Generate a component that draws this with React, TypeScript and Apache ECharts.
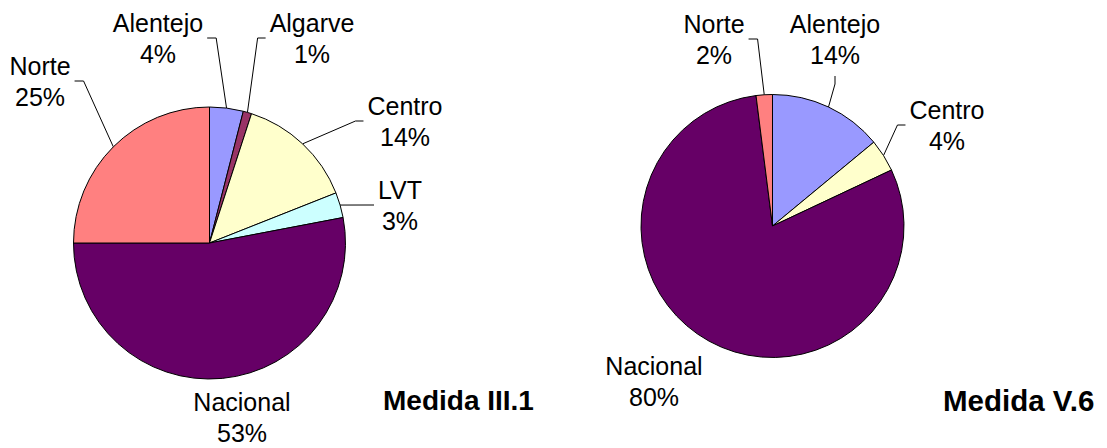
import React, { useEffect, useRef } from "react";
import * as echarts from "echarts";

// ---- data ----
const LEFT_CATEGORIES = ["Alentejo", "Algarve", "Centro", "LVT", "Nacional", "Norte"];
const LEFT_VALUES = [4, 1, 14, 3, 53, 25];
const RIGHT_CATEGORIES = ["Alentejo", "Centro", "Nacional", "Norte"];
const RIGHT_VALUES = [14, 4, 80, 2];
const TITLES = ["Medida III.1", "Medida V.6"];

// ---- styles / layout ----
const FONT = '"Liberation Sans", Arial, sans-serif';
const COLORS: Record<string, string> = {
  Alentejo: "#9999FF",
  Algarve: "#993366",
  Centro: "#FFFFCC",
  LVT: "#CCFFFF",
  Nacional: "#660066",
  Norte: "#FF8080",
};
const NO_LINE = ["Nacional"];
const LEFT_LABEL_POS = [
  [158, 38],
  [312, 38],
  [405, 121],
  [400, 205],
  [242, 417],
  [40, 81],
];
const RIGHT_LABEL_POS = [
  [835, 39],
  [947, 125],
  [654, 381],
  [714, 39],
];

function makeLayout(pos: number[][]) {
  return (p: any) => {
    const [cx, cy] = pos[p.dataIndex];
    const w = p.labelRect ? p.labelRect.width : 0;
    const h = p.labelRect ? p.labelRect.height : 0;
    const res: any = { x: cx, y: cy, align: "center", verticalAlign: "middle" };
    const pts = p.labelLinePoints;
    if (pts && pts.length) {
      const e = pts[0];
      const left = cx - w / 2;
      const right = cx + w / 2;
      const bottom = cy + h / 2;
      let end: number[];
      let knee: number[];
      if (e[0] >= left && e[0] <= right) {
        end = [cx, bottom + 6];
        knee = [cx, bottom + 14];
      } else if (e[0] > right) {
        end = [right + 4, cy];
        knee = [right + 13, cy];
      } else {
        end = [left - 4, cy];
        knee = [left - 12, cy];
      }
      res.labelLinePoints = [[e[0], e[1]], knee, end];
    }
    return res;
  };
}

function buildData(cats: string[], vals: number[]) {
  return cats.map((name, i) => {
    const item: any = { name, value: vals[i], itemStyle: { color: COLORS[name] } };
    if (NO_LINE.includes(name)) item.labelLine = { show: false };
    return item;
  });
}

function pieSeries(cats: string[], vals: number[], center: number[], radius: number, pos: number[][]) {
  return {
    type: "pie",
    center,
    radius,
    startAngle: 90,
    clockwise: true,
    avoidLabelOverlap: false,
    itemStyle: { borderColor: "#000", borderWidth: 1 },
    emphasis: { disabled: true },
    label: {
      show: true,
      position: "outside",
      formatter: (p: any) => `${p.name}\n${Math.round(p.percent)}%`,
      fontSize: 25,
      lineHeight: 31,
      color: "#000",
      fontFamily: FONT,
      align: "center",
    },
    labelLine: { show: true, length: 10, length2: 10, lineStyle: { color: "#000", width: 1 } },
    labelLayout: makeLayout(pos),
    data: buildData(cats, vals),
  };
}

export default function App() {
  const ref = useRef<HTMLDivElement>(null);
  useEffect(() => {
    if (!ref.current) return;
    const chart = echarts.init(ref.current, null, { renderer: "svg" });
    chart.setOption({
      animation: false,
      backgroundColor: "#fff",
      graphic: [
        {
          type: "text",
          x: 383,
          y: 400,
          style: {
            text: TITLES[0],
            fontSize: 28,
            fontWeight: "bold",
            fontFamily: FONT,
            fill: "#000",
            align: "left",
            verticalAlign: "middle",
          },
        },
        {
          type: "text",
          x: 943,
          y: 400,
          style: {
            text: TITLES[1],
            fontSize: 29.5,
            fontWeight: "bold",
            fontFamily: FONT,
            fill: "#000",
            align: "left",
            verticalAlign: "middle",
          },
        },
      ],
      series: [
        pieSeries(LEFT_CATEGORIES, LEFT_VALUES, [209.5, 243], 136, LEFT_LABEL_POS),
        pieSeries(RIGHT_CATEGORIES, RIGHT_VALUES, [772.5, 226], 131.5, RIGHT_LABEL_POS),
      ],
    });
    return () => chart.dispose();
  }, []);
  return (
    <div
      ref={ref}
      style={{ position: "absolute", left: 0, top: 0, width: 1107, height: 448, background: "#fff" }}
    />
  );
}
